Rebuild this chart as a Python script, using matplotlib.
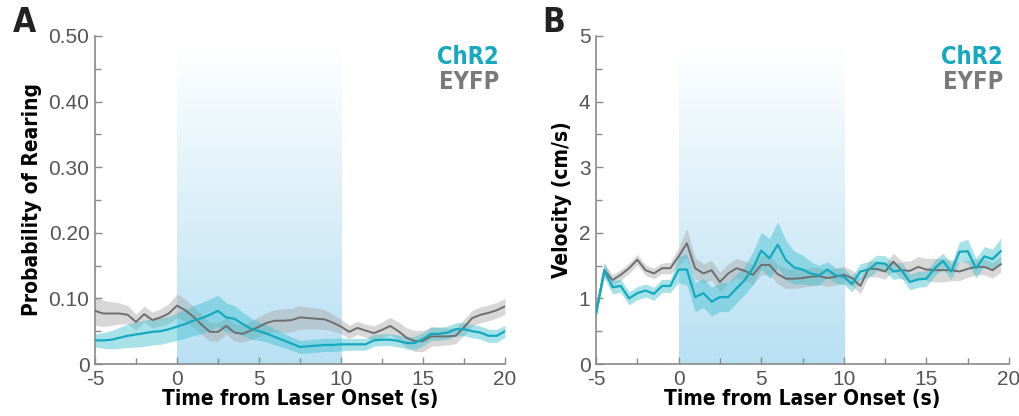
import numpy as np
import matplotlib
matplotlib.use("Agg")
import matplotlib.pyplot as plt
from matplotlib import font_manager
from matplotlib.colors import LinearSegmentedColormap

# time axis (s)
t_a = np.arange(-5, 20.5, 0.5)
t_b = np.arange(-5, 20.0, 0.5)

# panel A: probability of rearing
chr2_rear = [0.036, 0.036, 0.037, 0.040, 0.043, 0.045, 0.047, 0.049, 0.050, 0.053,
             0.057, 0.061, 0.066, 0.070, 0.075, 0.081, 0.071, 0.069, 0.061, 0.054,
             0.050, 0.046, 0.041, 0.036, 0.031, 0.026, 0.027, 0.028, 0.029, 0.029,
             0.030, 0.030, 0.030, 0.030, 0.036, 0.037, 0.037, 0.035, 0.032, 0.032,
             0.038, 0.046, 0.046, 0.048, 0.053, 0.053, 0.050, 0.048, 0.043, 0.043, 0.050]
chr2_rear_sem = [0.010, 0.012, 0.014, 0.016, 0.018, 0.019, 0.020, 0.020, 0.020, 0.020,
                 0.021, 0.022, 0.023, 0.024, 0.024, 0.024, 0.022, 0.020, 0.018, 0.016,
                 0.014, 0.013, 0.012, 0.011, 0.010, 0.010, 0.010, 0.010, 0.010, 0.010,
                 0.010, 0.009, 0.009, 0.009, 0.009, 0.009, 0.009, 0.009, 0.009, 0.010,
                 0.010, 0.010, 0.010, 0.010, 0.010, 0.010, 0.010, 0.010, 0.010, 0.010, 0.009]
eyfp_rear = [0.081, 0.077, 0.077, 0.077, 0.075, 0.064, 0.076, 0.067, 0.071, 0.077,
             0.089, 0.082, 0.072, 0.060, 0.049, 0.049, 0.058, 0.048, 0.046, 0.051,
             0.057, 0.063, 0.066, 0.066, 0.067, 0.071, 0.070, 0.069, 0.068, 0.063,
             0.057, 0.049, 0.055, 0.051, 0.047, 0.052, 0.058, 0.050, 0.040, 0.035,
             0.035, 0.042, 0.042, 0.042, 0.043, 0.056, 0.070, 0.075, 0.078, 0.082, 0.088]
eyfp_rear_sem = [0.022, 0.020, 0.018, 0.016, 0.014, 0.012, 0.012, 0.012, 0.013, 0.015,
                 0.018, 0.017, 0.016, 0.015, 0.014, 0.014, 0.013, 0.013, 0.013, 0.014,
                 0.015, 0.016, 0.017, 0.018, 0.018, 0.018, 0.017, 0.016, 0.015, 0.013,
                 0.011, 0.010, 0.010, 0.010, 0.011, 0.012, 0.013, 0.014, 0.015, 0.016,
                 0.016, 0.015, 0.014, 0.013, 0.012, 0.012, 0.012, 0.012, 0.012, 0.012, 0.012]

# panel B: velocity (cm/s)
chr2_vel = [0.77, 1.43, 1.17, 1.19, 1.00, 1.08, 1.12, 1.07, 1.19, 1.19,
            1.44, 1.44, 1.02, 1.08, 0.95, 1.02, 1.02, 1.15, 1.28, 1.46,
            1.73, 1.61, 1.82, 1.58, 1.47, 1.44, 1.38, 1.35, 1.44, 1.35,
            1.33, 1.22, 1.41, 1.44, 1.54, 1.53, 1.41, 1.43, 1.25, 1.29,
            1.30, 1.46, 1.57, 1.41, 1.71, 1.72, 1.46, 1.64, 1.60, 1.72]
chr2_vel_sem = [0.05, 0.12, 0.10, 0.10, 0.10, 0.10, 0.10, 0.10, 0.10, 0.10,
                0.20, 0.24, 0.22, 0.22, 0.22, 0.22, 0.22, 0.22, 0.22, 0.25,
                0.28, 0.30, 0.35, 0.30, 0.25, 0.22, 0.18, 0.15, 0.12, 0.12,
                0.12, 0.12, 0.12, 0.12, 0.12, 0.12, 0.12, 0.12, 0.12, 0.12,
                0.12, 0.12, 0.12, 0.12, 0.15, 0.18, 0.15, 0.15, 0.15, 0.20]
eyfp_vel = [0.77, 1.43, 1.28, 1.36, 1.46, 1.59, 1.43, 1.38, 1.46, 1.46,
            1.64, 1.84, 1.46, 1.38, 1.43, 1.25, 1.38, 1.46, 1.42, 1.36,
            1.51, 1.51, 1.37, 1.30, 1.30, 1.31, 1.33, 1.34, 1.31, 1.33,
            1.36, 1.31, 1.19, 1.45, 1.45, 1.41, 1.56, 1.43, 1.42, 1.48,
            1.44, 1.43, 1.43, 1.43, 1.41, 1.45, 1.48, 1.48, 1.43, 1.52]
eyfp_vel_sem = [0.05, 0.10, 0.08, 0.08, 0.08, 0.08, 0.08, 0.08, 0.08, 0.09,
                0.14, 0.22, 0.16, 0.15, 0.15, 0.15, 0.15, 0.15, 0.15, 0.15,
                0.15, 0.15, 0.15, 0.15, 0.15, 0.14, 0.14, 0.13, 0.13, 0.13,
                0.13, 0.12, 0.12, 0.12, 0.12, 0.12, 0.13, 0.14, 0.15, 0.16,
                0.17, 0.18, 0.18, 0.16, 0.14, 0.13, 0.12, 0.12, 0.12, 0.12]

CHR2 = "#14a9bf"
CHR2_BAND = "#3dbfd0"
EYFP = "#6e6e6e"
EYFP_BAND = "#a8a8a8"
AXIS = "#8a8a8a"

plt.rcParams["axes.unicode_minus"] = False

# pick a narrow bold face for labels, as close to the condensed print face as we have
_fonts = font_manager.fontManager.ttflist
if any(f.name == "Liberation Sans Narrow" for f in _fonts):
    BOLD = dict(family="Liberation Sans Narrow", fontweight="bold")
elif any(f.name == "DejaVu Sans" and f.stretch == "condensed" for f in _fonts):
    BOLD = dict(family="DejaVu Sans", fontstretch="condensed", fontweight="bold")
else:
    BOLD = dict(family="Liberation Sans", fontweight="bold")

shade_cmap = LinearSegmentedColormap.from_list("laser", ["#ffffff", "#b8e0f3"])


def draw_panel(ax, t, chr2, chr2_sem, eyfp, eyfp_sem, ymax, yticks, yticklabels, ylabel, letter, letter_x):
    chr2 = np.asarray(chr2)
    eyfp = np.asarray(eyfp)
    chr2_sem = np.asarray(chr2_sem)
    eyfp_sem = np.asarray(eyfp_sem)

    # laser-on gradient
    grad = np.linspace(0, 1, 256).reshape(-1, 1)
    ax.imshow(grad, extent=[0, 10, 0, ymax * 0.972], origin="upper", aspect="auto",
              cmap=shade_cmap, zorder=0)

    ax.fill_between(t, eyfp - eyfp_sem, eyfp + eyfp_sem, color=EYFP_BAND, alpha=0.45, lw=0, zorder=1)
    ax.fill_between(t, chr2 - chr2_sem, chr2 + chr2_sem, color=CHR2_BAND, alpha=0.45, lw=0, zorder=2)
    ax.plot(t, eyfp, color=EYFP, lw=1.4, zorder=3)
    ax.plot(t, chr2, color=CHR2, lw=1.6, zorder=4)

    ax.set_xlim(-5, 20)
    ax.set_ylim(0, ymax)
    ax.set_xticks([-5, 0, 5, 10, 15, 20])
    ax.set_xticks([-2.5, 2.5, 7.5, 12.5, 17.5], minor=True)
    ax.set_yticks(yticks)
    ax.set_yticklabels(yticklabels)
    ax.set_yticks([(yticks[i] + yticks[i + 1]) / 2 for i in range(len(yticks) - 1)], minor=True)
    ax.tick_params(which="both", direction="in", colors=AXIS, labelcolor="#555555",
                   labelsize=15, width=1)
    ax.tick_params(which="major", length=5)
    ax.tick_params(which="minor", length=4)
    ax.tick_params(axis="x", pad=4)
    ax.tick_params(axis="y", pad=4)
    for lab in ax.get_xticklabels() + ax.get_yticklabels():
        lab.set_fontfamily("Liberation Sans")
    for side in ("top", "right"):
        ax.spines[side].set_visible(False)
    for side in ("left", "bottom"):
        ax.spines[side].set_color(AXIS)
        ax.spines[side].set_linewidth(1.2)

    ax.set_xlabel("Time from Laser Onset (s)", fontsize=15, labelpad=0, **BOLD)
    ax.set_ylabel(ylabel, fontsize=15, labelpad=5, **BOLD)

    ax.text(0.985, 0.935, "ChR2", transform=ax.transAxes, ha="right", va="center", color=CHR2,
            fontsize=17, **BOLD)
    ax.text(0.985, 0.86, "EYFP", transform=ax.transAxes, ha="right", va="center", color="#7a7a7a",
            fontsize=17, **BOLD)
    ax.text(letter_x, 1.04, letter, transform=ax.transAxes, ha="left", va="center",
            fontsize=24, color="#222222", **BOLD)


def main() -> None:
    fig = plt.figure(figsize=(10.19, 4.16), dpi=100)
    ax_a = fig.add_axes([0.0932, 0.125, 0.4024, 0.7885])
    ax_b = fig.add_axes([0.5849, 0.125, 0.4053, 0.7885])

    draw_panel(ax_a, t_a, chr2_rear, chr2_rear_sem, eyfp_rear, eyfp_rear_sem, 0.5,
               [0, 0.1, 0.2, 0.3, 0.4, 0.5], ["0", "0.10", "0.20", "0.30", "0.40", "0.50"],
               "Probability of Rearing", "A", -0.2)
    draw_panel(ax_b, t_b, chr2_vel, chr2_vel_sem, eyfp_vel, eyfp_vel_sem, 5,
               [0, 1, 2, 3, 4, 5], ["0", "1", "2", "3", "4", "5"],
               "Velocity (cm/s)", "B", -0.13)

    fig.savefig("out.png", dpi=100)
    plt.close(fig)


if __name__ == "__main__":
    main()
